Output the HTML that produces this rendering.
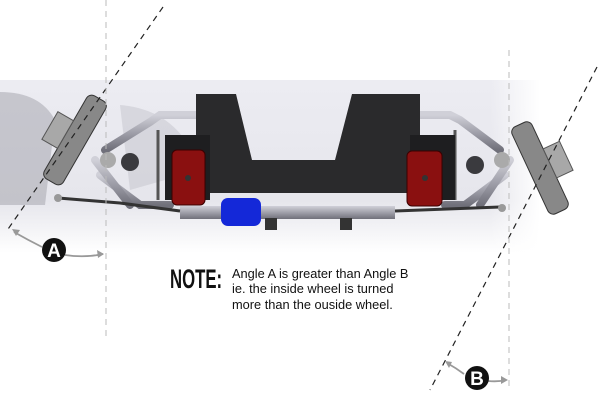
<!DOCTYPE html>
<html><head><style>
body{margin:0;width:600px;height:406px;background:#fff;overflow:hidden;font-family:"Liberation Sans",sans-serif}
</style></head><body>
<svg width="600" height="406" viewBox="0 0 600 406" xmlns="http://www.w3.org/2000/svg" style="display:block">
<defs>
<linearGradient id="bg" x1="0" y1="0" x2="0" y2="1">
<stop offset="0" stop-color="#ececf2"/><stop offset="0.7" stop-color="#e6e6ec"/><stop offset="1" stop-color="#fff"/>
</linearGradient>
<linearGradient id="fadeR" x1="0" x2="1"><stop offset="0" stop-color="#fff" stop-opacity="0"/><stop offset="1" stop-color="#fff"/></linearGradient>
<linearGradient id="tube" x1="0" y1="0" x2="0" y2="1"><stop offset="0" stop-color="#d0d0d8"/><stop offset="0.5" stop-color="#a0a0aa"/><stop offset="1" stop-color="#70707a"/></linearGradient>
</defs>
<rect x="0" y="80" width="540" height="173" fill="url(#bg)"/>
<rect x="490" y="80" width="50" height="173" fill="url(#fadeR)"/>
<path d="M0 92 Q40 92 55 120 L45 205 L0 205Z" fill="#9a9aa2" opacity="0.45"/>
<path d="M120 105 Q180 110 200 170 L130 190Z" fill="#c4c4cc" opacity="0.5"/>
<g stroke="url(#tube)" stroke-width="8" fill="none" stroke-linecap="round">
<path d="M105 150 L150 122 L160 115 L196 115"/><path d="M100 175 L140 205 L170 205"/>
<path d="M95 160 L130 205"/>
<path d="M500 150 L460 120 L450 115 L420 115"/><path d="M505 175 L465 205 L445 205"/>
<path d="M510 160 L480 205"/>
</g>
<g stroke="#555" stroke-width="3"><line x1="158" y1="130" x2="158" y2="200"/><line x1="455" y1="130" x2="455" y2="200"/></g>
<path d="M196 94 L236 94 L252 160 L335 160 L352 94 L420 94 L420 193 L196 193Z" fill="#2a2a2c"/>
<rect x="165" y="135" width="45" height="65" fill="#1e1e20"/>
<rect x="410" y="135" width="45" height="65" fill="#1e1e20"/>
<rect x="172" y="150" width="33" height="55" rx="5" fill="#8a1010" stroke="#3a0000"/>
<rect x="407" y="151" width="35" height="55" rx="5" fill="#8a1010" stroke="#3a0000"/>
<circle cx="188" cy="178" r="3" fill="#333"/><circle cx="425" cy="178" r="3" fill="#333"/>
<circle cx="130" cy="162" r="9" fill="#3a3a3e"/><circle cx="475" cy="165" r="9" fill="#3a3a3e"/>
<circle cx="108" cy="160" r="8" fill="#aaa"/><circle cx="502" cy="160" r="8" fill="#aaa"/>
<rect x="180" y="206" width="215" height="13" fill="url(#tube)"/>
<rect x="221" y="198" width="40" height="28" rx="7" fill="#1428d8"/>
<rect x="265" y="218" width="12" height="12" fill="#333"/><rect x="340" y="218" width="12" height="12" fill="#333"/>
<path d="M58 198 L120 203 L180 211" stroke="#333" stroke-width="3" fill="none"/>
<path d="M395 211 L500 207" stroke="#333" stroke-width="3"/>
<circle cx="58" cy="198" r="4" fill="#999"/><circle cx="502" cy="208" r="4" fill="#999"/>
<g transform="rotate(30 75 140)"><rect x="64" y="92" width="22" height="96" rx="6" fill="#888" stroke="#333"/><rect x="46" y="124" width="18" height="32" fill="#a8a8a8" stroke="#555"/></g>
<g transform="rotate(-25 540 168)"><rect x="529" y="120" width="22" height="96" rx="6" fill="#888" stroke="#333"/><rect x="551" y="152" width="18" height="32" fill="#a8a8a8" stroke="#555"/></g>
<g stroke="#222" stroke-width="1.2" stroke-dasharray="6,5" fill="none">
<line x1="163" y1="7" x2="6" y2="232"/><line x1="597" y1="67" x2="430" y2="390"/>
</g>
<g stroke="#bbb" stroke-width="1" stroke-dasharray="6,5" fill="none">
<line x1="106" y1="0" x2="106" y2="340"/><line x1="509" y1="50" x2="509" y2="388"/>
</g>
<g stroke="#999" stroke-width="1.8" fill="none">
<path d="M14 232 Q28 240 42 247"/><path d="M65 255 Q85 258 103 254"/>
<path d="M447 363 Q456 368 464 374"/><path d="M488 381 Q498 382 506 380"/>
</g>
<g fill="#999"><path d="M12 229 L20 230 L16 236Z"/><path d="M104 254 L97 250 L98 258Z"/><path d="M445 361 L452 362 L449 368Z"/><path d="M508 380 L501 376 L501 384Z"/></g>
<circle cx="54" cy="250" r="12" fill="#111"/>
<text x="54" y="257" font-size="19" font-weight="bold" fill="#fff" text-anchor="middle" font-family="Liberation Sans Narrow,Liberation Sans,sans-serif">A</text>
<circle cx="477" cy="378" r="12" fill="#111"/>
<text x="477" y="385" font-size="19" font-weight="bold" fill="#fff" text-anchor="middle" font-family="Liberation Sans Narrow,Liberation Sans,sans-serif">B</text>
<text x="170" y="288" font-size="27" font-weight="bold" fill="#111" font-family="Liberation Sans Narrow,Liberation Sans,sans-serif" transform="translate(170,0) scale(0.62,1) translate(-170,0)">NOTE:</text>
<g font-size="12.8" fill="#111">
<text x="232" y="278">Angle A is greater than Angle B</text>
<text x="232" y="293">ie. the inside wheel is turned</text>
<text x="232" y="309">more than the ouside wheel.</text>
</g>
</svg>
</body></html>
